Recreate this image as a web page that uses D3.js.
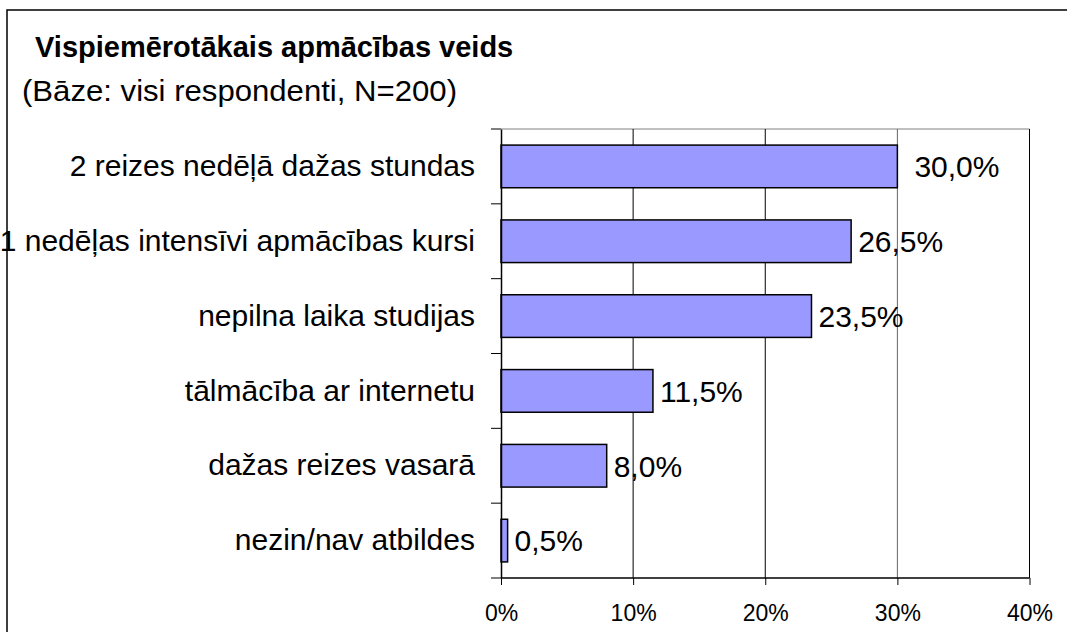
<!DOCTYPE html>
<html><head><meta charset="utf-8">
<script src="https://cdn.jsdelivr.net/npm/d3@7"></script>
<style>body{margin:0;background:#fff}svg{display:block}</style>
</head><body>
<script>
const title = "Vispiemērotākais apmācības veids";
const subtitle = "(Bāze: visi respondenti, N=200)";
const categories = ["2 reizes nedēļā dažas stundas","1 nedēļas intensīvi apmācības kursi","nepilna laika studijas","tālmācība ar internetu","dažas reizes vasarā","nezin/nav atbildes"];
const values = [30.0, 26.5, 23.5, 11.5, 8.0, 0.5];
const tickValues = [0, 10, 20, 30, 40];

(function () {
const W = 1067, H = 632;
const svg = d3.select("body").append("svg").attr("width", W).attr("height", H);
const font = "'Liberation Sans', Arial, sans-serif";

svg.append("rect").attr("x", 7).attr("y", 10).attr("width", 1200).attr("height", 800)
  .attr("fill", "none").attr("stroke", "#000").attr("stroke-width", 1.5);

svg.append("text").attr("x", 35).attr("y", 57).attr("font-family", font).attr("font-weight", "bold")
  .attr("font-size", 29).text(title);
svg.append("text").attr("x", 22).attr("y", 101).attr("font-family", font)
  .attr("font-size", 30).attr("textLength", 435).attr("lengthAdjust", "spacingAndGlyphs").text(subtitle);

const pL = 501, pR = 1029.5, pT = 129, pB = 578;
const x = d3.scaleLinear().domain([0, 40]).range([pL, pR]);
const y = d3.scaleBand().domain(categories).range([pT, pB]).paddingInner(0.43).paddingOuter(0.215);

svg.append("line").attr("x1", pL).attr("x2", pR).attr("y1", pT).attr("y2", pT)
  .attr("stroke", "#808080").attr("stroke-width", 1);

svg.append("g").selectAll("line").data(tickValues.slice(1)).join("line")
  .attr("x1", d => x(d)).attr("x2", d => x(d)).attr("y1", pT).attr("y2", pB)
  .attr("stroke", d => d === 30 ? "#666" : "#000").attr("stroke-width", 1);

svg.append("g").selectAll("rect").data(values).join("rect")
  .attr("x", x(0)).attr("y", (d, i) => y(categories[i]))
  .attr("width", d => x(d) - x(0)).attr("height", y.bandwidth())
  .attr("fill", "#9999FF").attr("stroke", "#000").attr("stroke-width", 1.5);

svg.append("g").selectAll("text").data(values).join("text")
  .attr("x", d => x(d) + (d === 30 ? 17 : 7)).attr("y", (d, i) => y(categories[i]) + y.bandwidth() / 2)
  .attr("dy", "0.36em").attr("font-family", font).attr("font-size", 30)
  .text(d => d.toFixed(1).replace(".", ",") + "%");

const xAxis = d3.axisBottom(x).tickValues(tickValues).tickSize(7).tickPadding(20)
  .tickFormat(d => d + "%");
const gx = svg.append("g").attr("transform", `translate(0,${pB})`).call(xAxis);
gx.select(".domain").attr("stroke", "#000").attr("stroke-width", 1.5).attr("d", `M${pL},0H${pR}`);
gx.selectAll(".tick line").attr("stroke", "#000");
gx.selectAll("text").attr("font-family", font).attr("font-size", 23).attr("fill", "#000");

const yAxis = d3.axisLeft(y).tickSize(0).tickPadding(26);
const gy = svg.append("g").attr("transform", `translate(${pL},0)`).call(yAxis);
gy.select(".domain").attr("stroke", "#000").attr("stroke-width", 1.5);
gy.selectAll("text").attr("font-family", font).attr("font-size", 30).attr("fill", "#000");

const step = y.step();
svg.append("g").selectAll("line").data(d3.range(categories.length + 1)).join("line")
  .attr("x1", pL - 10).attr("x2", pL)
  .attr("y1", i => pT + i * step).attr("y2", i => pT + i * step)
  .attr("stroke", "#000").attr("stroke-width", 1);
})();
</script>
</body></html>
